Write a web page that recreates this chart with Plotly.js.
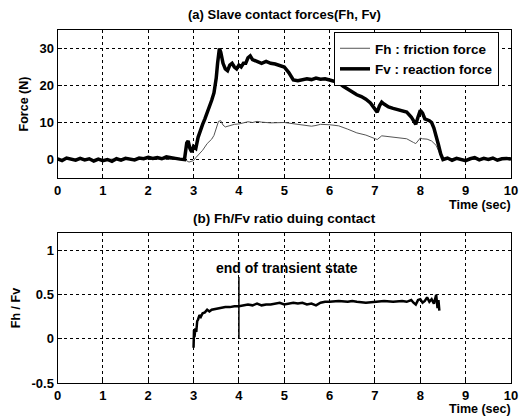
<!DOCTYPE html>
<html>
<head>
<meta charset="utf-8">
<script src="https://cdn.plot.ly/plotly-3.0.1.min.js"></script>
<style>html,body{margin:0;padding:0;background:#fff;}#chart{width:525px;height:416px;}</style>
</head>
<body>
<div id="chart"></div>
<script>
// ---- Data ----
const fvTime = [0,0.1,0.2,0.3,0.4,0.5,0.6,0.7,0.8,0.9,1.0,1.1,1.2,1.3,1.4,1.5,1.6,1.7,1.8,1.9,2.0,2.1,2.2,2.3,2.4,2.5,2.6,2.7,2.8,
  2.85,2.88,2.92,2.96,3.0,3.05,3.1,3.15,3.2,3.25,3.3,3.35,3.4,3.45,3.5,3.53,3.57,3.6,3.65,3.7,3.75,3.8,3.85,3.9,3.95,4.0,4.05,4.1,4.15,4.2,4.25,4.3,4.4,4.5,4.6,4.7,4.8,4.9,5.0,
  5.1,5.2,5.3,5.4,5.5,5.6,5.7,5.8,5.9,6.0,6.1,6.2,6.3,6.4,6.5,6.6,6.7,6.8,6.9,7.0,7.05,7.1,7.15,7.2,7.3,7.4,7.5,7.6,7.7,7.8,7.9,7.95,8.0,8.05,8.1,8.2,8.25,8.3,8.35,8.4,8.45,8.5,
  8.6,8.7,8.8,8.9,9.0,9.1,9.2,9.3,9.4,9.5,9.6,9.7,9.8,9.9,10.0];
const fvForce = [0.2,-0.3,0.4,0.1,-0.2,0.3,-0.1,0.2,-0.4,0.1,-0.3,0.0,-0.5,0.2,-0.2,0.3,0.1,-0.1,0.4,0.2,0.6,0.3,0.5,0.2,0.7,0.4,0.3,0.1,0.0,
  4.5,5.0,3.0,2.0,3.5,3.0,6.0,8.0,9.5,11.0,12.5,14.0,16.0,18.0,22.0,26.0,30.0,29.0,26.0,24.5,24.0,25.5,26.0,25.0,24.5,25.5,25.0,26.0,26.0,27.5,28.0,27.0,26.5,26.0,26.5,26.0,25.8,25.5,25.0,
  23.5,21.5,21.3,21.5,21.8,21.6,22.0,21.7,21.8,21.5,21.2,20.8,19.8,19.0,18.2,17.5,17.0,16.3,15.3,13.5,12.8,14.5,15.5,15.0,14.2,13.8,13.5,13.3,12.8,11.5,9.5,11.5,13.3,12.5,11.0,10.5,10.0,8.5,6.5,4.0,1.5,0.0,
  0.4,-0.2,0.3,0.1,-0.3,0.2,0.5,-0.1,0.3,0.0,0.4,-0.2,0.2,0.3,0.1];

const fhTime = [0,0.2,0.4,0.6,0.8,1.0,1.2,1.4,1.6,1.8,2.0,2.2,2.4,2.6,2.8,2.9,3.0,3.05,3.1,3.2,3.3,3.35,3.4,3.45,3.5,3.55,3.6,3.65,3.7,3.8,3.9,4.0,4.1,4.2,4.3,4.4,4.5,4.7,5.0,5.2,5.4,5.6,5.7,5.8,6.0,6.2,
  6.4,6.6,6.8,7.0,7.05,7.15,7.3,7.5,7.7,7.85,7.9,8.0,8.05,8.15,8.25,8.35,8.4,8.45,8.5,8.7,9.0,9.3,9.6,10.0];
const fhForce = [0.0,0.1,-0.1,0.1,0.0,-0.1,0.1,0.0,0.1,0.0,0.2,0.1,0.2,0.1,0.0,-0.7,-0.3,0.5,1.2,2.5,4.3,4.8,5.5,6.5,8.5,10.3,10.5,9.3,8.8,9.2,9.5,9.6,9.8,10.2,10.0,10.3,10.1,9.9,10.0,9.7,9.3,9.0,9.2,9.5,9.4,9.1,
  8.2,7.2,6.6,5.8,5.4,6.4,6.2,5.9,5.6,4.6,4.3,5.8,5.6,5.5,5.0,3.8,2.5,1.0,0.2,0.1,0.0,0.1,0.0,0.1];

const ratioTime = [3.0,3.01,3.02,3.04,3.06,3.08,3.1,3.13,3.16,3.2,3.25,3.3,3.35,3.4,3.5,3.6,3.7,3.8,3.9,4.0,4.1,4.2,4.3,4.4,4.5,4.6,4.7,4.8,4.9,5.0,5.1,5.2,5.3,5.4,5.5,5.6,5.7,5.8,5.9,6.0,6.2,6.4,6.5,6.6,6.8,7.0,7.2,7.4,7.6,7.7,7.8,7.85,7.9,7.95,8.0,8.05,8.1,8.15,8.2,8.25,8.3,8.35,8.38,8.4,8.42];
const ratioValue = [-0.1,0.1,0.02,0.12,0.08,0.2,0.22,0.27,0.25,0.29,0.3,0.33,0.31,0.33,0.34,0.35,0.36,0.36,0.37,0.37,0.38,0.39,0.38,0.4,0.38,0.39,0.39,0.4,0.41,0.39,0.4,0.41,0.4,0.41,0.39,0.4,0.38,0.41,0.42,0.42,0.43,0.42,0.43,0.42,0.41,0.42,0.43,0.42,0.43,0.42,0.44,0.41,0.39,0.44,0.45,0.41,0.43,0.47,0.42,0.45,0.4,0.5,0.35,0.44,0.32];

const transientEndTime = [4, 4];
const transientMarkY = [0, 0.7];

const xTicks = [0,1,2,3,4,5,6,7,8,9,10];
const forceTicks = [0,10,20,30];
const ratioTicks = [-0.5,0,0.5,1];
const ratioTickText = ['-0.5','0','0.5','1'];

// ---- Styling ----
const W = 525, H = 416;
const px = v => v / W;
const py = v => 1 - v / H;
const FAM = 'Liberation Sans, Arial, sans-serif';
const bold = s => ({family: FAM, size: s, color: '#000', weight: 'bold'});

const axisBase = {
  showline: true, mirror: true, linecolor: '#000', linewidth: 1,
  showgrid: true, gridcolor: '#000', griddash: 'dot', gridwidth: 1,
  zeroline: false, ticks: 'inside', ticklen: 4, tickcolor: '#000',
  tickfont: bold(13),
  fixedrange: true
};

const traces = [
  {x: fhTime, y: fhForce, type: 'scatter', mode: 'lines', name: 'Fh : friction force',
   line: {color: '#555', width: 1}, xaxis: 'x', yaxis: 'y'},
  {x: fvTime, y: fvForce, type: 'scatter', mode: 'lines', name: 'Fv : reaction force',
   line: {color: '#000', width: 3.5}, xaxis: 'x', yaxis: 'y'},
  {x: ratioTime, y: ratioValue, type: 'scatter', mode: 'lines', showlegend: false,
   line: {color: '#000', width: 2.5}, xaxis: 'x2', yaxis: 'y2'},
  {x: transientEndTime, y: transientMarkY, type: 'scatter', mode: 'lines', showlegend: false,
   line: {color: '#000', width: 1.5}, xaxis: 'x2', yaxis: 'y2'}
];

const layout = {
  width: W, height: H,
  margin: {l: 0, r: 0, t: 0, b: 0},
  paper_bgcolor: '#fff', plot_bgcolor: '#fff',
  font: bold(12),
  showlegend: true,
  legend: {x: px(334), y: py(32), xanchor: 'left', yanchor: 'top', bgcolor: '#fff',
           bordercolor: '#000', borderwidth: 1, font: bold(13.5),
           tracegroupgap: 0, itemwidth: 30},
  xaxis: Object.assign({}, axisBase, {domain: [px(57.5), px(511)], range: [0, 10], tickvals: xTicks, anchor: 'y'}),
  yaxis: Object.assign({}, axisBase, {domain: [py(178), py(30)], range: [-5, 35], tickvals: forceTicks, anchor: 'x',
    title: {text: 'Force (N)', font: bold(12.5), standoff: 8}}),
  xaxis2: Object.assign({}, axisBase, {domain: [px(57.5), px(511)], range: [0, 10], tickvals: xTicks, anchor: 'y2'}),
  yaxis2: Object.assign({}, axisBase, {domain: [py(383), py(233)], range: [-0.5, 1.2], tickvals: ratioTicks, ticktext: ratioTickText, anchor: 'x2',
    title: {text: 'Fh / Fv', font: bold(12.5), standoff: 8}}),
  annotations: [
    {text: '(a) Slave contact forces(Fh, Fv)', xref: 'paper', yref: 'paper', x: px(284), y: py(15), showarrow: false,
     xanchor: 'center', yanchor: 'middle', font: bold(13)},
    {text: '(b) Fh/Fv ratio duing contact', xref: 'paper', yref: 'paper', x: px(284), y: py(218), showarrow: false,
     xanchor: 'center', yanchor: 'middle', font: bold(13.5)},
    {text: 'Time (sec)', xref: 'paper', yref: 'paper', x: px(513), y: py(205), showarrow: false,
     xanchor: 'right', yanchor: 'middle', font: bold(12.5)},
    {text: 'Time (sec)', xref: 'paper', yref: 'paper', x: px(513), y: py(409), showarrow: false,
     xanchor: 'right', yanchor: 'middle', font: bold(12.5)},
    {text: 'end of transient state', xref: 'x2', yref: 'y2', x: 3.45, y: 0.8, showarrow: false,
     xanchor: 'left', yanchor: 'middle', font: bold(14)}
  ]
};

Plotly.newPlot('chart', traces, layout, {displayModeBar: false, staticPlot: true});
</script>
</body>
</html>
